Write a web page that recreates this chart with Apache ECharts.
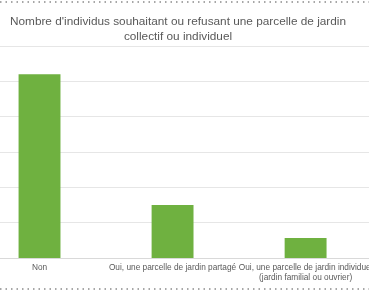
<!DOCTYPE html>
<html><head><meta charset="utf-8">
<script src="https://cdn.jsdelivr.net/npm/echarts@6/dist/echarts.min.js"></script>
<style>html,body{margin:0;padding:0;background:#fff;overflow:hidden;width:369px;height:293px}#c{width:402px;height:293px;margin-left:-27px}</style>
</head><body><div id="c"></div>
<script>
var categories = ["Non", "Oui, une parcelle de jardin partagé", "Oui, une parcelle de jardin individuel\n(jardin familial ou ouvrier)"];
var values = [104, 30, 11.3];
var yTicks = [0, 20, 40, 60, 80, 100, 120];
var OFF = 27;

var chart = echarts.init(document.getElementById('c'));
chart.setOption({
  animation: false,
  title: {
    text: "Nombre d'individus souhaitant ou refusant une parcelle de jardin\ncollectif ou individuel",
    left: 173 + OFF, top: 9, textAlign: 'center',
    textStyle: {fontFamily: 'Liberation Sans', fontSize: 11.8, fontWeight: 'normal', color: '#595959', lineHeight: 15}
  },
  grid: {left: 0, right: 0, top: 46, bottom: 35, containLabel: false},
  xAxis: {
    type: 'category', data: categories,
    axisTick: {show: false},
    axisLine: {lineStyle: {color: '#d9d9d9'}},
    axisLabel: {interval: 0, fontFamily: 'Liberation Sans', fontSize: 8.3, color: '#595959', margin: 5, lineHeight: 10}
  },
  yAxis: {
    type: 'value', min: yTicks[0], max: yTicks[yTicks.length - 1], interval: 20,
    axisLabel: {show: false}, axisLine: {show: false}, axisTick: {show: false},
    splitLine: {lineStyle: {color: '#e6e6e6'}}
  },
  series: [{
    type: 'bar', data: values, barWidth: '31.5%',
    itemStyle: {color: '#6FB140'}
  }],
  graphic: [
    {type: 'line', shape: {x1: OFF, y1: 2, x2: OFF + 369, y2: 2}, style: {stroke: '#8a8a8a', lineWidth: 1.5, lineDash: [1.5, 4]}},
    {type: 'line', shape: {x1: OFF, y1: 289, x2: OFF + 369, y2: 289}, style: {stroke: '#8a8a8a', lineWidth: 1.5, lineDash: [1.5, 4]}}
  ]
});
</script></body></html>
